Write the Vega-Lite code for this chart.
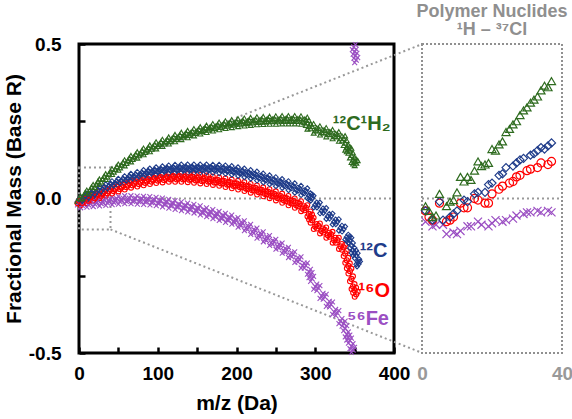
{
"$schema":"https://vega.github.io/schema/vega-lite/v6.json",
"padding":{"left":1,"top":2,"right":2,"bottom":2},
"bounds":"flush",
"spacing":28,
"config":{"font":"Liberation Sans","view":{"stroke":null},"axis":{"grid":false}},
"datasets":{
"main":[
{"s":"Fe","x":0,"y":-0.013},{"s":"Fe","x":4,"y":-0.022},{"s":"Fe","x":8,"y":-0.011},{"s":"Fe","x":12,"y":-0.020},{"s":"Fe","x":16,"y":-0.009},{"s":"Fe","x":20,"y":-0.018},{"s":"Fe","x":24,"y":-0.007},{"s":"Fe","x":28,"y":-0.016},{"s":"Fe","x":32,"y":-0.005},{"s":"Fe","x":36,"y":-0.014},{"s":"Fe","x":40,"y":-0.003},{"s":"Fe","x":44,"y":-0.012},{"s":"Fe","x":48,"y":-0.001},{"s":"Fe","x":52,"y":-0.010},{"s":"Fe","x":56,"y":0.001},{"s":"Fe","x":60,"y":-0.009},{"s":"Fe","x":64,"y":0.001},{"s":"Fe","x":68,"y":-0.009},{"s":"Fe","x":72,"y":0.000},{"s":"Fe","x":76,"y":-0.010},{"s":"Fe","x":80,"y":-0.001},{"s":"Fe","x":84,"y":-0.011},{"s":"Fe","x":88,"y":-0.002},{"s":"Fe","x":92,"y":-0.013},{"s":"Fe","x":96,"y":-0.004},{"s":"Fe","x":100,"y":-0.015},{"s":"Fe","x":104,"y":-0.007},{"s":"Fe","x":108,"y":-0.019},{"s":"Fe","x":112,"y":-0.011},{"s":"Fe","x":116,"y":-0.023},{"s":"Fe","x":120,"y":-0.015},{"s":"Fe","x":124,"y":-0.027},{"s":"Fe","x":128,"y":-0.019},{"s":"Fe","x":132,"y":-0.031},{"s":"Fe","x":136,"y":-0.023},{"s":"Fe","x":140,"y":-0.035},{"s":"Fe","x":144,"y":-0.027},{"s":"Fe","x":148,"y":-0.039},{"s":"Fe","x":152,"y":-0.032},{"s":"Fe","x":156,"y":-0.045},{"s":"Fe","x":160,"y":-0.038},{"s":"Fe","x":164,"y":-0.051},{"s":"Fe","x":168,"y":-0.044},{"s":"Fe","x":172,"y":-0.057},{"s":"Fe","x":176,"y":-0.050},{"s":"Fe","x":180,"y":-0.063},{"s":"Fe","x":184,"y":-0.056},{"s":"Fe","x":188,"y":-0.069},{"s":"Fe","x":192,"y":-0.062},{"s":"Fe","x":196,"y":-0.075},{"s":"Fe","x":200,"y":-0.070},{"s":"Fe","x":204,"y":-0.085},{"s":"Fe","x":208,"y":-0.080},{"s":"Fe","x":212,"y":-0.096},{"s":"Fe","x":216,"y":-0.092},{"s":"Fe","x":220,"y":-0.108},{"s":"Fe","x":224,"y":-0.104},{"s":"Fe","x":228,"y":-0.120},{"s":"Fe","x":232,"y":-0.116},{"s":"Fe","x":236,"y":-0.132},{"s":"Fe","x":240,"y":-0.128},{"s":"Fe","x":244,"y":-0.144},{"s":"Fe","x":248,"y":-0.140},{"s":"Fe","x":252,"y":-0.156},{"s":"Fe","x":256,"y":-0.152},{"s":"Fe","x":260,"y":-0.169},{"s":"Fe","x":264,"y":-0.166},{"s":"Fe","x":268,"y":-0.183},{"s":"Fe","x":272,"y":-0.181},{"s":"Fe","x":276,"y":-0.199},{"s":"Fe","x":280,"y":-0.197},{"s":"Fe","x":284,"y":-0.217},{"s":"Fe","x":288,"y":-0.217},{"s":"Fe","x":292,"y":-0.237},{"s":"Fe","x":294,"y":-0.248},{"s":"Fe","x":296,"y":-0.260},{"s":"Fe","x":300,"y":-0.285},{"s":"Fe","x":304,"y":-0.290},{"s":"Fe","x":308,"y":-0.315},{"s":"Fe","x":312,"y":-0.318},{"s":"Fe","x":316,"y":-0.341},{"s":"Fe","x":320,"y":-0.343},{"s":"Fe","x":324,"y":-0.367},{"s":"Fe","x":328,"y":-0.371},{"s":"Fe","x":332,"y":-0.397},{"s":"Fe","x":336,"y":-0.405},{"s":"Fe","x":338,"y":-0.420},{"s":"Fe","x":340,"y":-0.440},{"s":"Fe","x":342,"y":-0.450},{"s":"Fe","x":344,"y":-0.460},{"s":"Fe","x":346,"y":-0.478},{"s":"Fe","x":348,"y":-0.490},{"s":"Fe","x":349,"y":0.490},{"s":"Fe","x":350,"y":0.475},{"s":"Fe","x":351,"y":0.462},{"s":"Fe","x":352,"y":0.448},
{"s":"O","x":0,"y":-0.007},{"s":"O","x":4,"y":-0.014},{"s":"O","x":8,"y":-0.001},{"s":"O","x":12,"y":-0.007},{"s":"O","x":16,"y":0.007},{"s":"O","x":20,"y":0.001},{"s":"O","x":24,"y":0.015},{"s":"O","x":28,"y":0.009},{"s":"O","x":32,"y":0.023},{"s":"O","x":36,"y":0.017},{"s":"O","x":40,"y":0.031},{"s":"O","x":44,"y":0.024},{"s":"O","x":48,"y":0.038},{"s":"O","x":52,"y":0.031},{"s":"O","x":56,"y":0.044},{"s":"O","x":60,"y":0.037},{"s":"O","x":64,"y":0.050},{"s":"O","x":68,"y":0.043},{"s":"O","x":72,"y":0.055},{"s":"O","x":76,"y":0.047},{"s":"O","x":80,"y":0.059},{"s":"O","x":84,"y":0.051},{"s":"O","x":88,"y":0.063},{"s":"O","x":92,"y":0.055},{"s":"O","x":96,"y":0.067},{"s":"O","x":100,"y":0.058},{"s":"O","x":104,"y":0.069},{"s":"O","x":108,"y":0.060},{"s":"O","x":112,"y":0.071},{"s":"O","x":116,"y":0.062},{"s":"O","x":120,"y":0.072},{"s":"O","x":124,"y":0.062},{"s":"O","x":128,"y":0.072},{"s":"O","x":132,"y":0.062},{"s":"O","x":136,"y":0.071},{"s":"O","x":140,"y":0.061},{"s":"O","x":144,"y":0.070},{"s":"O","x":148,"y":0.059},{"s":"O","x":152,"y":0.068},{"s":"O","x":156,"y":0.057},{"s":"O","x":160,"y":0.066},{"s":"O","x":164,"y":0.055},{"s":"O","x":168,"y":0.063},{"s":"O","x":172,"y":0.052},{"s":"O","x":176,"y":0.060},{"s":"O","x":180,"y":0.049},{"s":"O","x":184,"y":0.057},{"s":"O","x":188,"y":0.045},{"s":"O","x":192,"y":0.053},{"s":"O","x":196,"y":0.041},{"s":"O","x":200,"y":0.049},{"s":"O","x":204,"y":0.037},{"s":"O","x":208,"y":0.045},{"s":"O","x":212,"y":0.032},{"s":"O","x":216,"y":0.039},{"s":"O","x":220,"y":0.027},{"s":"O","x":224,"y":0.034},{"s":"O","x":228,"y":0.021},{"s":"O","x":232,"y":0.028},{"s":"O","x":236,"y":0.015},{"s":"O","x":240,"y":0.022},{"s":"O","x":244,"y":0.009},{"s":"O","x":248,"y":0.015},{"s":"O","x":252,"y":0.002},{"s":"O","x":256,"y":0.008},{"s":"O","x":260,"y":-0.006},{"s":"O","x":264,"y":0.000},{"s":"O","x":268,"y":-0.014},{"s":"O","x":272,"y":-0.008},{"s":"O","x":276,"y":-0.022},{"s":"O","x":280,"y":-0.017},{"s":"O","x":284,"y":-0.033},{"s":"O","x":288,"y":-0.030},{"s":"O","x":292,"y":-0.050},{"s":"O","x":294,"y":-0.060},{"s":"O","x":296,"y":-0.070},{"s":"O","x":300,"y":-0.091},{"s":"O","x":304,"y":-0.089},{"s":"O","x":308,"y":-0.105},{"s":"O","x":312,"y":-0.102},{"s":"O","x":316,"y":-0.119},{"s":"O","x":320,"y":-0.116},{"s":"O","x":324,"y":-0.135},{"s":"O","x":328,"y":-0.135},{"s":"O","x":332,"y":-0.155},{"s":"O","x":336,"y":-0.158},{"s":"O","x":338,"y":-0.178},{"s":"O","x":340,"y":-0.200},{"s":"O","x":342,"y":-0.218},{"s":"O","x":344,"y":-0.235},{"s":"O","x":346,"y":-0.260},{"s":"O","x":348,"y":-0.285},{"s":"O","x":350,"y":-0.297},{"s":"O","x":352,"y":-0.310},
{"s":"C","x":0,"y":-0.003},{"s":"C","x":4,"y":-0.007},{"s":"C","x":8,"y":0.008},{"s":"C","x":12,"y":0.003},{"s":"C","x":16,"y":0.018},{"s":"C","x":20,"y":0.013},{"s":"C","x":24,"y":0.028},{"s":"C","x":28,"y":0.023},{"s":"C","x":32,"y":0.038},{"s":"C","x":36,"y":0.033},{"s":"C","x":40,"y":0.048},{"s":"C","x":44,"y":0.042},{"s":"C","x":48,"y":0.056},{"s":"C","x":52,"y":0.050},{"s":"C","x":56,"y":0.064},{"s":"C","x":60,"y":0.058},{"s":"C","x":64,"y":0.072},{"s":"C","x":68,"y":0.065},{"s":"C","x":72,"y":0.078},{"s":"C","x":76,"y":0.071},{"s":"C","x":80,"y":0.084},{"s":"C","x":84,"y":0.076},{"s":"C","x":88,"y":0.089},{"s":"C","x":92,"y":0.081},{"s":"C","x":96,"y":0.093},{"s":"C","x":100,"y":0.085},{"s":"C","x":104,"y":0.096},{"s":"C","x":108,"y":0.088},{"s":"C","x":112,"y":0.099},{"s":"C","x":116,"y":0.090},{"s":"C","x":120,"y":0.101},{"s":"C","x":124,"y":0.091},{"s":"C","x":128,"y":0.102},{"s":"C","x":132,"y":0.092},{"s":"C","x":136,"y":0.102},{"s":"C","x":140,"y":0.092},{"s":"C","x":144,"y":0.102},{"s":"C","x":148,"y":0.092},{"s":"C","x":152,"y":0.102},{"s":"C","x":156,"y":0.092},{"s":"C","x":160,"y":0.102},{"s":"C","x":164,"y":0.092},{"s":"C","x":168,"y":0.101},{"s":"C","x":172,"y":0.091},{"s":"C","x":176,"y":0.101},{"s":"C","x":180,"y":0.090},{"s":"C","x":184,"y":0.099},{"s":"C","x":188,"y":0.088},{"s":"C","x":192,"y":0.097},{"s":"C","x":196,"y":0.085},{"s":"C","x":200,"y":0.093},{"s":"C","x":204,"y":0.081},{"s":"C","x":208,"y":0.089},{"s":"C","x":212,"y":0.077},{"s":"C","x":216,"y":0.084},{"s":"C","x":220,"y":0.072},{"s":"C","x":224,"y":0.079},{"s":"C","x":228,"y":0.066},{"s":"C","x":232,"y":0.073},{"s":"C","x":236,"y":0.060},{"s":"C","x":240,"y":0.067},{"s":"C","x":244,"y":0.054},{"s":"C","x":248,"y":0.061},{"s":"C","x":252,"y":0.048},{"s":"C","x":256,"y":0.055},{"s":"C","x":260,"y":0.042},{"s":"C","x":264,"y":0.048},{"s":"C","x":268,"y":0.035},{"s":"C","x":272,"y":0.041},{"s":"C","x":276,"y":0.027},{"s":"C","x":280,"y":0.033},{"s":"C","x":284,"y":0.019},{"s":"C","x":288,"y":0.025},{"s":"C","x":292,"y":0.009},{"s":"C","x":294,"y":0.005},{"s":"C","x":296,"y":0.001},{"s":"C","x":300,"y":-0.021},{"s":"C","x":304,"y":-0.021},{"s":"C","x":308,"y":-0.040},{"s":"C","x":312,"y":-0.039},{"s":"C","x":316,"y":-0.058},{"s":"C","x":320,"y":-0.057},{"s":"C","x":324,"y":-0.076},{"s":"C","x":328,"y":-0.075},{"s":"C","x":332,"y":-0.096},{"s":"C","x":336,"y":-0.099},{"s":"C","x":340,"y":-0.125},{"s":"C","x":342,"y":-0.130},{"s":"C","x":344,"y":-0.135},{"s":"C","x":346,"y":-0.152},{"s":"C","x":348,"y":-0.168},{"s":"C","x":350,"y":-0.176},{"s":"C","x":352,"y":-0.185},{"s":"C","x":354,"y":-0.205},{"s":"C","x":355,"y":-0.212},
{"s":"CH2","x":0,"y":0.000},{"s":"CH2","x":4,"y":0.000},{"s":"CH2","x":8,"y":0.019},{"s":"CH2","x":12,"y":0.018},{"s":"CH2","x":16,"y":0.037},{"s":"CH2","x":20,"y":0.036},{"s":"CH2","x":24,"y":0.055},{"s":"CH2","x":28,"y":0.054},{"s":"CH2","x":32,"y":0.072},{"s":"CH2","x":36,"y":0.070},{"s":"CH2","x":40,"y":0.088},{"s":"CH2","x":44,"y":0.086},{"s":"CH2","x":48,"y":0.103},{"s":"CH2","x":52,"y":0.100},{"s":"CH2","x":56,"y":0.117},{"s":"CH2","x":60,"y":0.114},{"s":"CH2","x":64,"y":0.131},{"s":"CH2","x":68,"y":0.127},{"s":"CH2","x":72,"y":0.143},{"s":"CH2","x":76,"y":0.139},{"s":"CH2","x":80,"y":0.155},{"s":"CH2","x":84,"y":0.150},{"s":"CH2","x":88,"y":0.165},{"s":"CH2","x":92,"y":0.160},{"s":"CH2","x":96,"y":0.175},{"s":"CH2","x":100,"y":0.169},{"s":"CH2","x":104,"y":0.183},{"s":"CH2","x":108,"y":0.177},{"s":"CH2","x":112,"y":0.191},{"s":"CH2","x":116,"y":0.185},{"s":"CH2","x":120,"y":0.199},{"s":"CH2","x":124,"y":0.192},{"s":"CH2","x":128,"y":0.206},{"s":"CH2","x":132,"y":0.199},{"s":"CH2","x":136,"y":0.212},{"s":"CH2","x":140,"y":0.205},{"s":"CH2","x":144,"y":0.218},{"s":"CH2","x":148,"y":0.211},{"s":"CH2","x":152,"y":0.224},{"s":"CH2","x":156,"y":0.217},{"s":"CH2","x":160,"y":0.229},{"s":"CH2","x":164,"y":0.222},{"s":"CH2","x":168,"y":0.234},{"s":"CH2","x":172,"y":0.227},{"s":"CH2","x":176,"y":0.239},{"s":"CH2","x":180,"y":0.231},{"s":"CH2","x":184,"y":0.243},{"s":"CH2","x":188,"y":0.235},{"s":"CH2","x":192,"y":0.247},{"s":"CH2","x":196,"y":0.238},{"s":"CH2","x":200,"y":0.250},{"s":"CH2","x":204,"y":0.241},{"s":"CH2","x":208,"y":0.252},{"s":"CH2","x":212,"y":0.243},{"s":"CH2","x":216,"y":0.254},{"s":"CH2","x":220,"y":0.245},{"s":"CH2","x":224,"y":0.256},{"s":"CH2","x":228,"y":0.247},{"s":"CH2","x":232,"y":0.257},{"s":"CH2","x":236,"y":0.248},{"s":"CH2","x":240,"y":0.258},{"s":"CH2","x":244,"y":0.249},{"s":"CH2","x":248,"y":0.259},{"s":"CH2","x":252,"y":0.249},{"s":"CH2","x":256,"y":0.260},{"s":"CH2","x":260,"y":0.250},{"s":"CH2","x":264,"y":0.260},{"s":"CH2","x":268,"y":0.250},{"s":"CH2","x":272,"y":0.260},{"s":"CH2","x":276,"y":0.250},{"s":"CH2","x":280,"y":0.259},{"s":"CH2","x":284,"y":0.249},{"s":"CH2","x":288,"y":0.255},{"s":"CH2","x":290,"y":0.245},{"s":"CH2","x":292,"y":0.233},{"s":"CH2","x":296,"y":0.234},{"s":"CH2","x":300,"y":0.220},{"s":"CH2","x":304,"y":0.227},{"s":"CH2","x":308,"y":0.214},{"s":"CH2","x":312,"y":0.221},{"s":"CH2","x":316,"y":0.208},{"s":"CH2","x":320,"y":0.215},{"s":"CH2","x":324,"y":0.202},{"s":"CH2","x":328,"y":0.208},{"s":"CH2","x":332,"y":0.194},{"s":"CH2","x":336,"y":0.195},{"s":"CH2","x":338,"y":0.180},{"s":"CH2","x":340,"y":0.165},{"s":"CH2","x":342,"y":0.160},{"s":"CH2","x":344,"y":0.155},{"s":"CH2","x":346,"y":0.140},{"s":"CH2","x":348,"y":0.125},{"s":"CH2","x":350,"y":0.120},{"s":"CH2","x":352,"y":0.115}
],
"inset":[
{"s":"Fe","x":1,"y":-0.015},{"s":"Fe","x":3,"y":-0.018},{"s":"Fe","x":4,"y":-0.017},{"s":"Fe","x":6,"y":-0.017},{"s":"Fe","x":7,"y":-0.023},{"s":"Fe","x":9,"y":-0.022},{"s":"Fe","x":10,"y":-0.023},{"s":"Fe","x":11,"y":-0.021},{"s":"Fe","x":13,"y":-0.018},{"s":"Fe","x":14,"y":-0.018},{"s":"Fe","x":16,"y":-0.015},{"s":"Fe","x":17,"y":-0.017},{"s":"Fe","x":19,"y":-0.018},{"s":"Fe","x":20,"y":-0.016},{"s":"Fe","x":21,"y":-0.014},{"s":"Fe","x":23,"y":-0.015},{"s":"Fe","x":24,"y":-0.014},{"s":"Fe","x":26,"y":-0.013},{"s":"Fe","x":27,"y":-0.011},{"s":"Fe","x":29,"y":-0.010},{"s":"Fe","x":30,"y":-0.009},{"s":"Fe","x":31,"y":-0.009},{"s":"Fe","x":33,"y":-0.008},{"s":"Fe","x":34,"y":-0.009},{"s":"Fe","x":36,"y":-0.008},{"s":"Fe","x":37,"y":-0.009},
{"s":"O","x":1,"y":-0.008},{"s":"O","x":2,"y":-0.012},{"s":"O","x":3,"y":-0.014},{"s":"O","x":5,"y":-0.003},{"s":"O","x":7,"y":-0.015},{"s":"O","x":8,"y":-0.014},{"s":"O","x":9,"y":-0.012},{"s":"O","x":11,"y":-0.003},{"s":"O","x":12,"y":-0.006},{"s":"O","x":13,"y":-0.006},{"s":"O","x":15,"y":0.000},{"s":"O","x":16,"y":-0.001},{"s":"O","x":18,"y":-0.003},{"s":"O","x":19,"y":-0.003},{"s":"O","x":20,"y":0.003},{"s":"O","x":22,"y":0.006},{"s":"O","x":23,"y":0.008},{"s":"O","x":25,"y":0.010},{"s":"O","x":26,"y":0.011},{"s":"O","x":27,"y":0.014},{"s":"O","x":28,"y":0.015},{"s":"O","x":30,"y":0.018},{"s":"O","x":31,"y":0.019},{"s":"O","x":33,"y":0.020},{"s":"O","x":34,"y":0.023},{"s":"O","x":36,"y":0.022},{"s":"O","x":37,"y":0.024},
{"s":"C","x":1,"y":-0.008},{"s":"C","x":3,"y":-0.014},{"s":"C","x":5,"y":-0.002},{"s":"C","x":6,"y":-0.014},{"s":"C","x":8,"y":-0.012},{"s":"C","x":9,"y":-0.010},{"s":"C","x":10,"y":-0.008},{"s":"C","x":12,"y":-0.001},{"s":"C","x":13,"y":-0.002},{"s":"C","x":15,"y":0.003},{"s":"C","x":16,"y":0.004},{"s":"C","x":18,"y":0.004},{"s":"C","x":19,"y":0.009},{"s":"C","x":20,"y":0.010},{"s":"C","x":22,"y":0.015},{"s":"C","x":23,"y":0.016},{"s":"C","x":24,"y":0.020},{"s":"C","x":26,"y":0.021},{"s":"C","x":27,"y":0.023},{"s":"C","x":28,"y":0.025},{"s":"C","x":29,"y":0.026},{"s":"C","x":31,"y":0.028},{"s":"C","x":32,"y":0.029},{"s":"C","x":33,"y":0.031},{"s":"C","x":34,"y":0.033},{"s":"C","x":35,"y":0.032},{"s":"C","x":36,"y":0.034},{"s":"C","x":37,"y":0.036},
{"s":"CH2","x":1,"y":-0.005},{"s":"CH2","x":2,"y":-0.008},{"s":"CH2","x":3,"y":-0.012},{"s":"CH2","x":4,"y":-0.011},{"s":"CH2","x":5,"y":0.003},{"s":"CH2","x":7,"y":-0.005},{"s":"CH2","x":8,"y":-0.002},{"s":"CH2","x":9,"y":-0.001},{"s":"CH2","x":10,"y":0.004},{"s":"CH2","x":11,"y":0.014},{"s":"CH2","x":12,"y":0.011},{"s":"CH2","x":13,"y":0.014},{"s":"CH2","x":14,"y":0.012},{"s":"CH2","x":15,"y":0.018},{"s":"CH2","x":16,"y":0.024},{"s":"CH2","x":17,"y":0.021},{"s":"CH2","x":18,"y":0.022},{"s":"CH2","x":19,"y":0.023},{"s":"CH2","x":20,"y":0.032},{"s":"CH2","x":21,"y":0.031},{"s":"CH2","x":22,"y":0.035},{"s":"CH2","x":23,"y":0.037},{"s":"CH2","x":24,"y":0.043},{"s":"CH2","x":25,"y":0.045},{"s":"CH2","x":26,"y":0.048},{"s":"CH2","x":27,"y":0.050},{"s":"CH2","x":28,"y":0.054},{"s":"CH2","x":29,"y":0.057},{"s":"CH2","x":30,"y":0.059},{"s":"CH2","x":31,"y":0.062},{"s":"CH2","x":32,"y":0.064},{"s":"CH2","x":33,"y":0.066},{"s":"CH2","x":34,"y":0.070},{"s":"CH2","x":35,"y":0.073},{"s":"CH2","x":36,"y":0.072},{"s":"CH2","x":37,"y":0.076}
]
},
"hconcat":[
{
"width":315,"height":309,
"view":{"stroke":"black","strokeWidth":3},
"encoding":{
  "x":{"field":"x","type":"quantitative","scale":{"domain":[0,400],"nice":false,"zero":false},
   "axis":{"values":[0,50,100,150,200,250,300,350,400],"labelExpr":"datum.value % 100 == 0 ? datum.label : ''","domain":false,"ticks":true,"tickSize":-6,"tickWidth":2.5,"tickColor":"black","labelFontSize":19,"labelFontWeight":"bold","labelColor":"black","labelPadding":17,"labelFlush":false,"title":"m/z (Da)","titleFontSize":21,"titleFontWeight":"bold","titleColor":"black","titlePadding":9}},
  "y":{"field":"y","type":"quantitative","scale":{"domain":[-0.5,0.5],"nice":false,"zero":false},
   "axis":{"values":[-0.5,-0.25,0,0.25,0.5],"labelExpr":"datum.value == 0.5 ? '0.5' : datum.value == 0 ? '0.0' : datum.value == -0.5 ? '-0.5' : ''","domain":false,"ticks":true,"tickSize":-6,"tickWidth":2.5,"tickColor":"black","labelFontSize":19,"labelFontWeight":"bold","labelColor":"black","labelPadding":24,"labelFlush":false,"title":"Fractional Mass (Base R)","titleFontSize":21,"titleFontWeight":"bold","titleColor":"black","titlePadding":4}}
},
"layer":[
{"data":{"values":[{"x":0,"x2":400,"y":0}]},
 "mark":{"type":"rule","color":"#999999","strokeDash":[2,3],"strokeWidth":2},
 "encoding":{"x2":{"field":"x2"}}},
{"data":{"values":[{"x":0,"x2":40,"y":-0.1,"y2":0.1}]},
 "mark":{"type":"rect","filled":false,"stroke":"#999999","strokeDash":[2,3],"strokeWidth":2},
 "encoding":{"x2":{"field":"x2"},"y2":{"field":"y2"}}},
{"data":{"values":[{"x":40,"y":0.1,"x2":436,"y2":0.5},{"x":40,"y":-0.1,"x2":436,"y2":-0.5}]},
 "mark":{"type":"rule","color":"#999999","strokeDash":[2,3],"strokeWidth":2},
 "encoding":{"x2":{"field":"x2"},"y2":{"field":"y2"}}},
{"data":{"name":"main"},
 "mark":{"type":"point","filled":false,"size":24,"strokeWidth":1.1,"opacity":1,"xOffset":1.5,"yOffset":-2.5},
 "encoding":{
  "color":{"field":"s","type":"nominal","scale":{"domain":["CH2","C","O","Fe"],"range":["#2E6B1F","#1F3C8A","#FF0000","#9B4FC3"]},"legend":null},
  "shape":{"field":"s","type":"nominal","scale":{"domain":["CH2","C","O","Fe"],"range":["triangle-up","diamond","circle","M-1,-1L1,1M-1,1L1,-1"]},"legend":null}
 }},
{"data":{"name":"main"},
 "mark":{"type":"point","filled":false,"size":24,"strokeWidth":1.1,"opacity":1,"xOffset":-1.5,"yOffset":2.5},
 "encoding":{
  "color":{"field":"s","type":"nominal","scale":{"domain":["CH2","C","O","Fe"],"range":["#2E6B1F","#1F3C8A","#FF0000","#9B4FC3"]},"legend":null},
  "shape":{"field":"s","type":"nominal","scale":{"domain":["CH2","C","O","Fe"],"range":["triangle-up","diamond","circle","M-1,-1L1,1M-1,1L1,-1"]},"legend":null}
 }},
{"data":{"name":"main"},
 "mark":{"type":"point","filled":false,"size":26,"strokeWidth":1.2,"opacity":1},
 "encoding":{
  "color":{"field":"s","type":"nominal","scale":{"domain":["CH2","C","O","Fe"],"range":["#2E6B1F","#1F3C8A","#FF0000","#9B4FC3"]},"legend":null},
  "shape":{"field":"s","type":"nominal","scale":{"domain":["CH2","C","O","Fe"],"range":["triangle-up","diamond","circle","M-1,-1L1,1M-1,1L1,-1"]},"legend":null}
 }},
{"data":{"values":[{"x":359,"y":0.241,"t":"¹²C¹H₂","c":"#2E6B1F"},{"x":374,"y":-0.17,"t":"¹²C","c":"#1F3C8A"},{"x":375,"y":-0.30,"t":"¹⁶O","c":"#FF0000"},{"x":367,"y":-0.39,"t":"⁵⁶Fe","c":"#9B4FC3"}]},
 "mark":{"type":"text","fontSize":20,"fontWeight":"bold","align":"center","baseline":"middle"},
 "encoding":{"text":{"field":"t"},"color":{"field":"c","type":"nominal","scale":null}}}
]
},
{
"width":140,"height":309,
"view":{"stroke":"#909090","strokeDash":[2,2],"strokeWidth":2},
"encoding":{
  "x":{"field":"x","type":"quantitative","scale":{"domain":[0,40],"nice":false,"zero":false},
   "axis":{"values":[0,40],"domain":false,"ticks":false,"labelFontSize":19,"labelFontWeight":"bold","labelColor":"#999999","labelPadding":11,"labelFlush":false,"title":null}},
  "y":{"field":"y","type":"quantitative","scale":{"domain":[-0.1,0.1],"nice":false,"zero":false},"axis":null}
},
"layer":[
{"data":{"values":[{"x":0,"x2":40,"y":0}]},
 "mark":{"type":"rule","color":"#999999","strokeDash":[2,3],"strokeWidth":2},
 "encoding":{"x2":{"field":"x2"}}},
{"data":{"name":"inset"},
 "mark":{"type":"point","filled":false,"size":65,"strokeWidth":1.2,"opacity":1},
 "encoding":{
  "color":{"field":"s","type":"nominal","scale":{"domain":["CH2","C","O","Fe"],"range":["#2E6B1F","#1F3C8A","#FF0000","#9B4FC3"]},"legend":null},
  "shape":{"field":"s","type":"nominal","scale":{"domain":["CH2","C","O","Fe"],"range":["triangle-up","diamond","circle","M-1,-1L1,1M-1,1L1,-1"]},"legend":null}
 }},
{"data":{"values":[{"x":20,"y":0.1207,"t":"Polymer Nuclides"},{"x":20,"y":0.1090,"t":"¹H – ³⁷Cl"}]},
 "mark":{"type":"text","fontSize":18,"fontWeight":"bold","align":"center","baseline":"middle","color":"#8F8F8F"},
 "encoding":{"text":{"field":"t"}}}
]
}
]
}
